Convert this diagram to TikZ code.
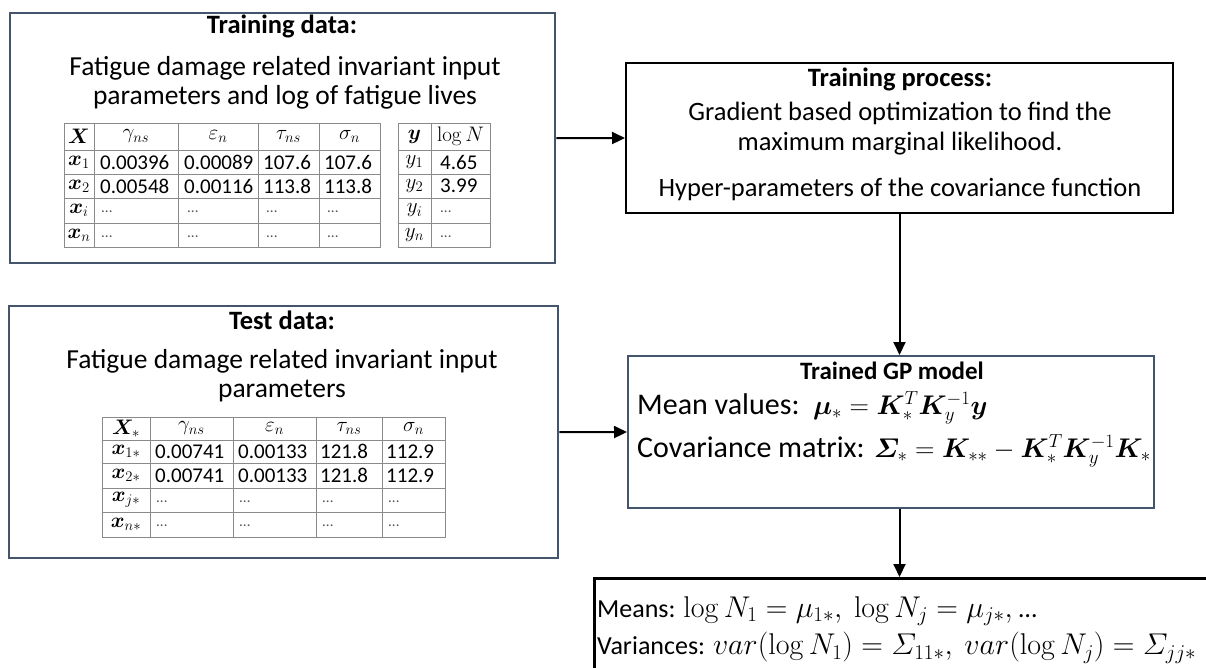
\RequirePackage{fix-cm}
\documentclass[tikz,border=0pt]{standalone}
\usepackage{amsmath}
\usepackage[no-math]{fontspec}
\setmainfont{Carlito}
\usepackage{bm}
\usetikzlibrary{arrows.meta}
\definecolor{slate}{HTML}{44546A}
\definecolor{gridgray}{HTML}{8A8A8A}
\definecolor{dotgray}{HTML}{555555}
\newcommand{\bigmath}{\fontsize{30}{36}\selectfont}
\newcommand{\gpmath}{\fontsize{27}{32}\selectfont}
\tikzset{
  boxtext/.style={font=\fontsize{27.5}{29}\selectfont, inner sep=0pt, align=center},
  proctext/.style={font=\fontsize{26.5}{30}\selectfont, inner sep=0pt, align=center},
  titletext/.style={font=\bfseries\fontsize{26.5}{30}\selectfont, inner sep=0pt},
  gptext/.style={font=\fontsize{30}{36}\selectfont, inner sep=0pt, anchor=west},
  restext/.style={font=\fontsize{26}{30}\selectfont, inner sep=0pt, anchor=west},
  cell/.style={font=\fontsize{21}{24}\selectfont, inner sep=0pt},
  numcell/.style={cell, anchor=west},
  dotcell/.style={font=\fontsize{15}{18}\selectfont, inner sep=0pt, anchor=west, text=dotgray},
  gridline/.style={draw=gridgray, line width=0.9pt},
  slatebox/.style={draw=slate, line width=2.4pt, anchor=north west, inner sep=0pt},
  blackbox/.style={draw=black, line width=2pt, anchor=north west, inner sep=0pt},
  arr/.style={-{Triangle[length=13pt,width=12pt]}, line width=2pt},
}
\begin{document}
\begin{tikzpicture}[x=1pt,y=-1pt]
\clip (0,0) rectangle (1206,668);
\fill[white] (0,0) rectangle (1206,668);

% ---------- boxes ----------
\node[slatebox, minimum width=545pt, minimum height=250pt] (train) at (9,12) {};
\node[blackbox, minimum width=547pt, minimum height=150pt] (tproc) at (625,62) {};
\node[slatebox, minimum width=549pt, minimum height=252pt] (test) at (8,305) {};
\node[slatebox, line width=2pt, minimum width=526pt, minimum height=152pt] (gp) at (627,355) {};
\node[blackbox, line width=2.6pt, minimum width=700pt, minimum height=200pt] (res) at (593,577) {};

% ---------- training data ----------
\node[titletext] (traintitle) at (282,26) {Training data:};
\node[boxtext] (traindesc) at (285,83) {Fatigue damage related invariant input\\parameters and log of fatigue lives};

% X table
\draw[gridline] (64,123) rectangle (380,247);
\foreach \xx in {94,178,258,319} \draw[gridline] (\xx,123) -- (\xx,247);
\foreach \yy in {150,174,198,223} \draw[gridline] (64,\yy) -- (380,\yy);
\node[cell] (xh0) at (79,136.5) {$\bm{X}$};
\node[cell] (xh1) at (136,136.5) {$\gamma_{ns}$};
\node[cell] (xh2) at (218,136.5) {$\varepsilon_{n}$};
\node[cell] (xh3) at (288.5,136.5) {$\tau_{ns}$};
\node[cell] (xh4) at (349.5,136.5) {$\sigma_{n}$};
\node[cell] (xr1) at (79,162) {$\bm{x}_1$};
\node[cell] (xr2) at (79,186) {$\bm{x}_2$};
\node[cell] (xr3) at (79,210.5) {$\bm{x}_i$};
\node[cell] (xr4) at (79,235) {$\bm{x}_n$};
\node[numcell] (xa1) at (100,162) {0.00396};
\node[numcell] (xa2) at (184,162) {0.00089};
\node[numcell] (xa3) at (263,162) {107.6};
\node[numcell] (xa4) at (324,162) {107.6};
\node[numcell] (xb1) at (100,186) {0.00548};
\node[numcell] (xb2) at (184,186) {0.00116};
\node[numcell] (xb3) at (263,186) {113.8};
\node[numcell] (xb4) at (324,186) {113.8};
\foreach \xx/\k in {101/1,187/2,266/3,327/4}{
  \node[dotcell] (xc\k) at (\xx,212) {...};
  \node[dotcell] (xd\k) at (\xx,237) {...};
}

% y table
\draw[gridline] (398,123) rectangle (490,247);
\draw[gridline] (431,123) -- (431,247);
\foreach \yy in {150,174,198,223} \draw[gridline] (398,\yy) -- (490,\yy);
\node[cell] (yh0) at (414.5,136.5) {$\bm{y}$};
\node[cell] (yh1) at (460.5,136.5) {$\log N$};
\node[cell] (yr1) at (414.5,162) {$y_1$};
\node[cell] (yr2) at (414.5,186) {$y_2$};
\node[cell] (yr3) at (414.5,210.5) {$y_i$};
\node[cell] (yr4) at (414.5,235) {$y_n$};
\node[numcell] (ya1) at (440,162) {4.65};
\node[numcell] (ya2) at (440,186) {3.99};
\node[dotcell] (ya3) at (440,212) {...};
\node[dotcell] (ya4) at (440,237) {...};

% ---------- training process ----------
\node[titletext] (tproctitle) at (900,79) {Training process:};
\node[proctext] (tprocdesc) at (900,129) {Gradient based optimization to find the\\maximum marginal likelihood.};
\node[proctext] (tprochyp) at (900,189) {Hyper-parameters of the covariance function};

% ---------- test data ----------
\node[titletext] (testtitle) at (282,320) {Test data:};
\node[boxtext] (testdesc) at (282,376) {Fatigue damage related invariant input\\parameters};

\draw[gridline] (102,417) rectangle (445,537);
\foreach \xx in {150,233,316,382} \draw[gridline] (\xx,417) -- (\xx,537);
\foreach \yy in {440,463,488,512} \draw[gridline] (102,\yy) -- (445,\yy);
\node[cell] (th0) at (126,428.5) {$\bm{X}_{*}$};
\node[cell] (th1) at (191.5,428.5) {$\gamma_{ns}$};
\node[cell] (th2) at (274.5,428.5) {$\varepsilon_{n}$};
\node[cell] (th3) at (349,428.5) {$\tau_{ns}$};
\node[cell] (th4) at (413.5,428.5) {$\sigma_{n}$};
\node[cell] (tr1) at (126,451.5) {$\bm{x}_{1*}$};
\node[cell] (tr2) at (126,475.5) {$\bm{x}_{2*}$};
\node[cell] (tr3) at (126,500) {$\bm{x}_{j*}$};
\node[cell] (tr4) at (126,524.5) {$\bm{x}_{n*}$};
\node[numcell] (ta1) at (155,451.5) {0.00741};
\node[numcell] (ta2) at (238,451.5) {0.00133};
\node[numcell] (ta3) at (320,451.5) {121.8};
\node[numcell] (ta4) at (386,451.5) {112.9};
\node[numcell] (tb1) at (155,475.5) {0.00741};
\node[numcell] (tb2) at (238,475.5) {0.00133};
\node[numcell] (tb3) at (320,475.5) {121.8};
\node[numcell] (tb4) at (386,475.5) {112.9};
\foreach \xx/\k in {156/1,239/2,322/3,388/4}{
  \node[dotcell] (tc\k) at (\xx,502) {...};
  \node[dotcell] (td\k) at (\xx,526) {...};
}

% ---------- GP model ----------
\node[titletext, font=\bfseries\fontsize{25}{30}\selectfont] (gptitle) at (892,371) {Trained GP model};
\node[gptext] (gpmean) at (637,408) {Mean values:\ \ {\gpmath$\bm{\mu}_{*} = \bm{K}_{*}^{T}\bm{K}_{y}^{-1}\bm{y}$}};
\node[gptext] (gpcov) at (637,451) {Covariance matrix: {\gpmath$\bm{\varSigma}_{*} = \bm{K}_{**} - \bm{K}_{*}^{T}\bm{K}_{y}^{-1}\bm{K}_{*}$}};

% ---------- results ----------
\node[restext] (resmean) at (597,611) {Means: {\bigmath$\log N_1 = \mu_{1*},\ \log N_j = \mu_{j*},$} \dots};
\node[restext] (resvar) at (597,648) {Variances: {\bigmath$var(\log N_1) = \varSigma_{11*},\ var(\log N_j) = \varSigma_{jj*}$}};

% ---------- connectors ----------
\draw[arr] (train.east) -- (tproc.west);
\draw[arr] (test.east) -- (gp.west);
\draw[arr] (tproc.south) -- (tproc.south |- gp.north);
\draw[arr] (gp.south -| tproc.south) -- (tproc.south |- res.north);
\end{tikzpicture}
\end{document}
